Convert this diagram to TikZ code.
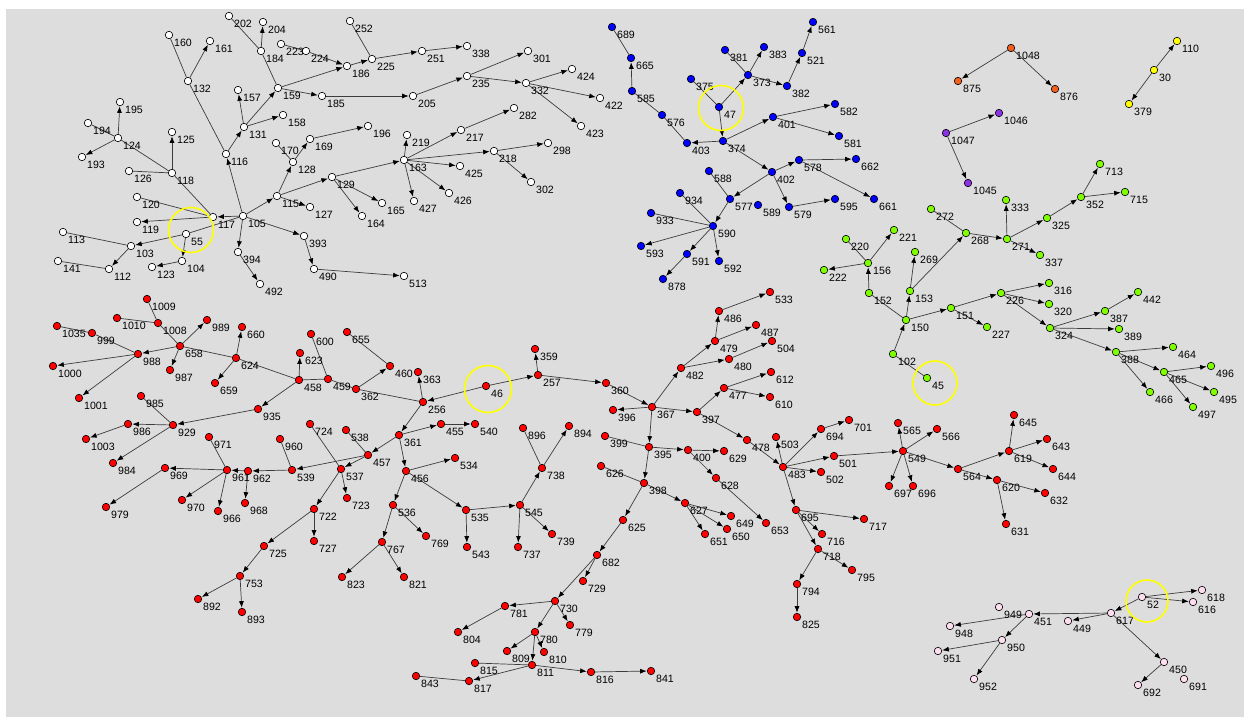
\documentclass[tikz,border=0pt]{standalone}
\usepackage{fontspec}
\setmainfont{Liberation Sans}
\usetikzlibrary{arrows.meta}
\pgfdeclarelayer{bg}
\pgfsetlayers{bg,main}
\definecolor{bgrey}{RGB}{221,221,221}
\definecolor{edgec}{RGB}{60,60,60}
\definecolor{cwhite}{RGB}{255,255,255}
\definecolor{cblue}{RGB}{0,0,255}
\definecolor{cred}{RGB}{255,0,0}
\definecolor{cgreen}{RGB}{128,255,0}
\definecolor{corange}{RGB}{245,95,30}
\definecolor{cpurple}{RGB}{140,50,230}
\definecolor{cyellow}{RGB}{255,255,0}
\definecolor{cpink}{RGB}{255,222,240}
\definecolor{ring}{RGB}{255,255,0}
\tikzset{
  vtx/.style={circle,draw=black,line width=0.6pt,minimum size=7.5pt,inner sep=0pt},
  lab/.style={anchor=west,inner sep=0pt,font=\fontsize{10.6}{12}\selectfont,text=black},
  e/.style={draw=edgec,line width=0.7pt,-{Latex[length=6.5pt,width=5pt,black]},shorten >=0.3pt},
  u/.style={draw=edgec,line width=0.7pt},
  ringc/.style={draw=ring,line width=1.6pt}
}
\begin{document}
\begin{tikzpicture}[x=1pt,y=-1pt]
\useasboundingbox (0,0) rectangle (1244,717);
\begin{pgfonlayer}{bg}
\fill[white] (0,0) rectangle (1244,717);
\fill[bgrey] (6,9) rectangle (1244,717);
\end{pgfonlayer}
% white component
\foreach \i/\x/\y in {202/229/16, 204/263/22, 160/169/35, 161/210/41, 184/261/51, 223/281/44, 224/306/51, 132/188/81, 159/278/88, 157/238/90, 195/120/102, 194/88/123, 131/244/127, 158/283/115, 124/118/138, 125/172/132, 170/276/143, 169/310/139, 116/226/154, 128/293/162, 193/82/157, 126/129/171, 118/172/173, 115/277/196, 120/137/197, 127/310/207, 117/213/217, 105/243/216, 119/137/222, 55/186/234, 113/63/232, 393/304/236, 103/131/246, 394/238/252, 104/182/261, 141/58/261, 112/109/269, 123/152/267, 492/260/284, 490/314/269, 513/404/276, 252/350/21, 338/467/46, 251/422/51, 225/372/59, 186/347/66, 301/528/51, 424/572/69, 235/467/76, 332/526/83, 185/322/96, 205/413/96, 422/600/98, 282/514/108, 423/581/126, 196/368/126, 217/461/130, 219/407/135, 298/548/143, 218/494/151, 163/404/160, 425/460/166, 129/332/177, 302/531/182, 426/449/193, 427/414/201, 165/382/203, 164/362/216}
  {\node[vtx,fill=cwhite] (n\i) at (\x,\y) {}; \node[lab] (l\i) at (\x+5,\y+8) {\i};}
% blue component
\foreach \i/\x/\y in {689/612/27, 665/631/58, 585/632/91, 576/662/115, 403/687/143, 374/723/141, 47/719/107, 375/691/79, 381/725/50, 373/748/75, 383/764/47, 382/787/86, 521/802/53, 561/813/22, 401/773/117, 582/835/104, 581/839/136, 402/772/172, 578/799/160, 662/856/159, 661/874/199, 588/709/171, 577/730/199, 589/758/205, 579/789/207, 595/835/199, 934/680/193, 933/651/213, 590/713/226, 593/641/246, 591/687/254, 592/719/261, 878/663/279}
  {\node[vtx,fill=cblue] (n\i) at (\x,\y) {}; \node[lab] (l\i) at (\x+5,\y+8) {\i};}
% small components
\foreach \i/\x/\y in {1048/1011/48, 875/958/81, 876/1055/89}
  {\node[vtx,fill=corange] (n\i) at (\x,\y) {}; \node[lab] (l\i) at (\x+5,\y+8) {\i};}
\foreach \i/\x/\y in {1046/999/113, 1047/946/133, 1045/968/183}
  {\node[vtx,fill=cpurple] (n\i) at (\x,\y) {}; \node[lab] (l\i) at (\x+5,\y+8) {\i};}
\foreach \i/\x/\y in {110/1177/41, 30/1154/70, 379/1129/104}
  {\node[vtx,fill=cyellow] (n\i) at (\x,\y) {}; \node[lab] (l\i) at (\x+5,\y+8) {\i};}
% green component
\foreach \i/\x/\y in {713/1100/164, 715/1125/192, 352/1081/197, 333/1006/200, 272/931/209, 325/1047/218, 268/966/233, 271/1007/239, 337/1040/255, 316/1049/283, 226/1001/293, 320/1049/304, 151/951/308, 442/1138/292, 387/1105/311, 227/987/327, 324/1050/328, 389/1119/329, 388/1116/352, 464/1173/347, 496/1211/366, 465/1164/372, 45/927/378, 466/1150/392, 495/1214/392, 497/1193/407, 221/894/230, 220/846/239, 156/868/263, 222/824/270, 152/869/293, 269/915/252, 153/910/291, 150/906/320, 102/893/354}
  {\node[vtx,fill=cgreen] (n\i) at (\x,\y) {}; \node[lab] (l\i) at (\x+5,\y+8) {\i};}
% red component
\foreach \i/\x/\y in {1009/147/299, 1010/117/318, 1008/158/323, 989/207/320, 660/242/327, 1035/57/326, 999/92/333, 658/180/346, 988/138/354, 624/236/358, 1000/53/366, 987/170/370, 659/215/383, 458/299/380, 623/300/353, 600/311/334, 1001/79/398, 985/141/396, 935/258/409, 929/173/425, 986/128/424, 1003/86/439, 971/209/437, 960/280/439, 724/310/424, 984/113/463, 969/165/468, 961/227/470, 962/248/471, 539/292/470, 979/106/507, 970/182/500, 966/218/511, 968/245/503, 725/264/546, 753/240/576, 892/198/599, 893/242/612, 722/314/509, 727/314/541, 655/347/332, 359/535/349, 460/390/366, 363/418/372, 459/328/379, 257/538/375, 362/356/389, 46/486/386, 360/606/383, 256/423/402, 396/613/410, 455/441/424, 540/475/424, 538/346/430, 896/523/428, 894/569/426, 361/399/435, 399/605/436, 457/368/455, 534/455/458, 537/341/469, 456/406/471, 738/542/468, 626/601/466, 723/347/498, 536/393/505, 535/466/510, 545/520/505, 767/382/542, 769/426/536, 543/467/547, 737/518/547, 739/552/534, 682/597/555, 729/583/581, 823/342/577, 821/404/577, 730/555/601, 781/505/606, 779/570/625, 804/458/632, 780/535/632, 809/507/651, 810/544/652, 815/475/663, 811/532/665, 816/591/672, 843/416/676, 817/469/681, 841/651/671, 625/623/520, 398/644/483, 627/685/503, 649/731/516, 650/727/529, 651/705/534, 628/716/478, 653/766/523, 695/796/510, 717/864/519, 716/822/534, 718/818/549, 795/852/570, 794/797/584, 825/797/617, 502/821/472, 697/889/486, 696/913/486, 533/770/292, 486/719/311, 487/756/325, 479/715/341, 504/772/341, 480/729/359, 482/681/368, 612/771/372, 477/724/388, 610/770/397, 367/652/407, 397/697/412, 701/849/420, 565/898/423, 694/821/429, 503/776/437, 478/747/440, 395/649/447, 400/688/450, 629/724/451, 501/834/456, 549/903/451, 483/783/467, 566/937/429, 645/1014/415, 643/1047/439, 619/1009/451, 564/958/469, 644/1053/469, 620/997/480, 632/1045/493, 631/1006/524}
  {\node[vtx,fill=cred] (n\i) at (\x,\y) {}; \node[lab] (l\i) at (\x+5,\y+8) {\i};}
% pink component
\foreach \i/\x/\y in {618/1202/590, 52/1142/597, 616/1193/602, 949/999/607, 451/1029/614, 617/1111/613, 449/1068/621, 948/950/626, 950/1002/640, 951/938/651, 450/1164/662, 691/1184/679, 952/974/679, 692/1138/685}
  {\node[vtx,fill=cpink] (n\i) at (\x,\y) {}; \node[lab] (l\i) at (\x+5,\y+8) {\i};}
% rings around roots
\node[circle,ringc,minimum size=45pt,inner sep=0pt] (r55) at (191,230) {};
\node[circle,ringc,minimum size=45pt,inner sep=0pt] (r47) at (721,108) {};
\node[circle,ringc,minimum size=47pt,inner sep=0pt] (r46) at (488,389) {};
\node[circle,ringc,minimum size=44pt,inner sep=0pt] (r45) at (935,383) {};
\node[circle,ringc,minimum size=42pt,inner sep=0pt] (r52) at (1147,601) {};
\begin{pgfonlayer}{bg}
% directed edges
\foreach \a/\b in {55/103, 55/104, 105/117, 117/119, 118/125, 124/195, 124/193, 105/116, 116/131, 132/161, 131/157, 131/158, 131/159, 184/204, 159/185, 159/186, 186/225, 225/251, 251/338, 185/205, 205/235, 235/301, 235/332, 332/424, 332/422, 332/423, 105/115, 115/127, 115/128, 128/169, 169/196, 115/129, 129/165, 129/164, 129/163, 163/219, 163/217, 217/282, 163/218, 218/298, 218/302, 163/425, 163/426, 163/427, 105/394, 394/492, 105/393, 393/490, 490/513, 104/123, 103/112, 224/186,
  47/374, 47/373, 373/383, 373/382, 382/521, 521/561, 374/403, 585/665, 374/401, 401/582, 401/581, 374/402, 402/578, 578/662, 578/661, 402/579, 579/595, 402/577, 577/590, 590/593, 590/591, 590/592, 591/878,
  1048/875, 1048/876, 1047/1046, 1047/1045, 30/110, 30/379,
  102/150, 150/153, 153/269, 153/268, 268/271, 271/333, 271/325, 325/352, 352/713, 352/715, 271/337, 152/156, 156/221, 156/222, 150/151, 151/227, 151/226, 226/316, 226/320, 226/324, 324/387, 387/442, 324/389, 324/388, 388/464, 388/465, 388/466, 465/496, 465/495, 465/497,
  46/256, 46/257, 257/359, 257/360, 360/367, 367/396, 367/482, 482/479, 479/486, 486/533, 479/487, 482/480, 480/504, 367/397, 397/477, 477/612, 477/610, 397/478, 478/483, 483/503, 483/694, 694/701, 483/501, 501/549, 549/565, 549/566, 549/697, 549/696, 549/564, 564/619, 619/645, 619/643, 619/644, 564/620, 620/632, 620/631, 483/502, 483/695, 695/717, 695/716, 695/718, 718/795, 718/794, 794/825, 367/395, 395/400, 400/629, 400/628, 628/653, 395/398, 398/627, 627/649, 627/650, 627/651, 398/625, 625/682, 682/729, 682/730, 730/781, 781/804, 730/779, 730/780, 780/809, 780/810, 780/811, 811/817, 811/816, 816/841, 545/738, 738/894, 535/545, 545/737, 545/739, 535/543, 456/535, 361/456, 456/534, 456/536, 536/769, 536/767, 767/823, 767/821, 256/363, 256/361, 361/455, 455/540, 361/457, 457/537, 537/723, 537/722, 722/727, 722/725, 725/753, 753/892, 753/893, 457/539, 539/962, 962/961, 969/979, 961/970, 961/966, 962/968, 362/460, 458/623, 624/660, 624/659, 458/935, 935/929, 929/986, 986/1003, 929/984, 658/989, 658/987, 658/988, 988/1000, 988/1001, 961/969,
  52/617, 52/618, 52/616, 617/449, 617/451, 451/948, 451/950, 950/951, 950/952, 617/450, 450/692}
  {\draw[e] (n\a) -- (n\b);}
% undirected edges
\foreach \a/\b in {55/105, 117/120, 117/118, 118/126, 118/124, 124/194, 116/132, 132/160, 159/184, 184/202, 225/252, 224/223, 128/170, 103/113, 112/141,
  47/375, 373/381, 403/576, 576/585, 665/689, 577/588, 590/934, 590/933,
  102/45, 150/152, 156/220, 268/272,
  395/399, 398/626, 738/896, 457/538, 537/724, 811/815, 817/843, 961/971, 539/960, 256/362, 362/459, 459/458, 460/655, 459/600, 458/624, 624/658, 929/985, 988/999, 999/1035, 658/1008, 1008/1010, 1008/1009}
  {\draw[u] (n\a) -- (n\b);}
\end{pgfonlayer}
\end{tikzpicture}
\end{document}
